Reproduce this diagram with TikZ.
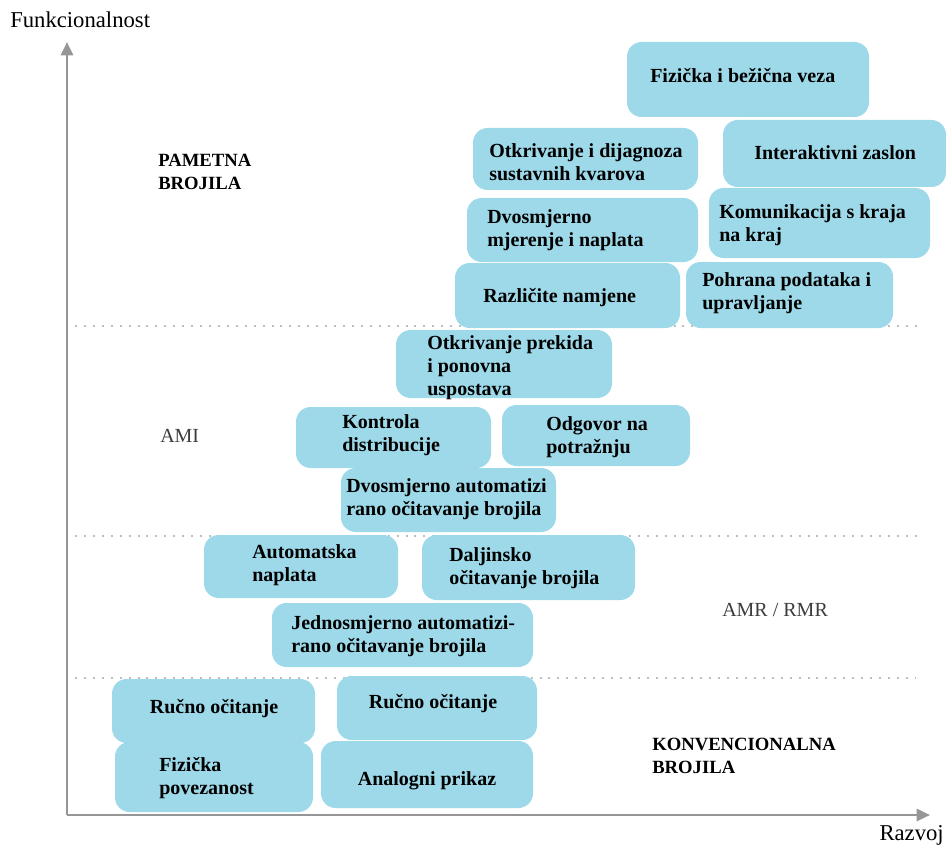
\documentclass[tikz,border=0pt]{standalone}
\usepackage{fontspec}
\setmainfont{Liberation Serif}
\usetikzlibrary{arrows.meta}
\definecolor{plava}{RGB}{157,217,233}
\definecolor{osi}{RGB}{150,150,150}
\definecolor{tocke}{RGB}{190,190,190}
\definecolor{sivi}{RGB}{60,60,60}
\tikzset{
    kutija/.style={fill=plava, rounded corners=11pt},
    tekst/.style={font=\fontsize{15}{17.25}\selectfont\bfseries, align=left, inner sep=0pt, anchor=west, yshift=-1.5pt},
    naslov/.style={font=\fontsize{14}{17.25}\selectfont\bfseries, align=left, inner sep=0pt, anchor=west},
    stari/.style={font=\fontsize{15}{17.25}\selectfont\bfseries, align=left, inner sep=0pt, yshift=-1pt},
    razina/.style={draw=tocke, line width=1.5pt, dash pattern=on 1.5pt off 5.2pt},
    os/.style={draw=osi, line width=2pt, -{Triangle[width=9pt,length=10pt]}}
}
\begin{document}
\begin{tikzpicture}[x=0.75pt, y=-0.75pt]
    \useasboundingbox (0,0) rectangle (946,845);
    % osi
    \coordinate (ishodiste) at (67,815);
    \draw[os] (ishodiste) -- (67,42);
    \draw[os] (ishodiste) -- (930,815);
    \node[anchor=west, inner sep=0pt, font=\fontsize{17}{20}\selectfont] (funk) at (10,20) {Funkcionalnost};
    \node[anchor=east, inner sep=0pt, font=\fontsize{17}{20}\selectfont] (razvoj) at (944,835) {Razvoj};
    % razine
    \draw[razina] (75,326) -- (920,326);
    \draw[razina] (75,536) -- (920,536);
    \draw[razina] (75,678) -- (915,678);
    \node[naslov] (pametna) at (158,172) {PAMETNA\\BROJILA};
    \node[anchor=west, inner sep=0pt, text=sivi, font=\fontsize{15}{18}\selectfont] (ami) at (160,436) {AMI};
    \node[anchor=west, inner sep=0pt, text=sivi, font=\fontsize{15}{18}\selectfont] (amr) at (722,610) {AMR / RMR};
    \node[naslov] (konv) at (652,756) {KONVENCIONALNA\\BROJILA};
    % pametna brojila
    \fill[kutija] (627,42) rectangle (869,117);
    \node[tekst] (veza) at (650,74) {Fizička i bežična veza};
    \fill[kutija] (473,128) rectangle (698,190);
    \node[tekst] (kvarovi) at (489,160) {Otkrivanje i dijagnoza\\sustavnih kvarova};
    \fill[kutija] (723,120) rectangle (946,187);
    \node[tekst] (zaslon) at (754,151) {Interaktivni zaslon};
    \fill[kutija] (467,198) rectangle (698,262);
    \node[tekst] (naplata) at (487,228) {Dvosmjerno\\mjerenje i naplata};
    \fill[kutija] (709,188) rectangle (930,258);
    \node[tekst] (komunikacija) at (719,223) {Komunikacija s kraja\\na kraj};
    \fill[kutija] (455,263) rectangle (680,328);
    \node[tekst] (namjene) at (483,296) {Različite namjene};
    \fill[kutija] (686,262) rectangle (893,328);
    \node[tekst] (pohrana) at (702,291) {Pohrana podataka i\\upravljanje};
    % AMI
    \fill[kutija] (396,330) rectangle (612,398);
    \node[tekst] (prekid) at (427,366) {Otkrivanje prekida\\i ponovna\\uspostava};
    \fill[kutija] (296,407) rectangle (491,468);
    \node[tekst] (kontrola) at (342,433) {Kontrola\\distribucije};
    \fill[kutija] (502,405) rectangle (690,466);
    \node[tekst] (odgovor) at (546,435) {Odgovor na\\potražnju};
    \fill[kutija] (341,468) rectangle (556,532);
    \node[tekst] (dvosmjerno) at (346,497) {Dvosmjerno automatizi\\rano očitavanje brojila};
    % AMR / RMR
    \fill[kutija] (204,535) rectangle (398,598);
    \node[tekst] (automatska) at (252,563) {Automatska\\naplata};
    \fill[kutija] (422,535) rectangle (635,600);
    \node[tekst] (daljinsko) at (449,566) {Daljinsko\\očitavanje brojila};
    \fill[kutija] (272,603) rectangle (533,667);
    \node[tekst] (jednosmjerno) at (291,634) {Jednosmjerno automatizi-\\rano očitavanje brojila};
    % konvencionalna brojila
    \fill[kutija] (112,679) rectangle (315,743);
    \node[stari] (rucno1) at (214,707) {Ručno očitanje};
    \fill[kutija] (337,676) rectangle (537,740);
    \node[stari] (rucno2) at (433,702) {Ručno očitanje};
    \fill[kutija] (115,742) rectangle (313,812);
    \node[stari, anchor=west] (povezanost) at (159,777) {Fizička\\povezanost};
    \fill[kutija] (321,741) rectangle (533,808);
    \node[stari] (analogni) at (427,779) {Analogni prikaz};
\end{tikzpicture}
\end{document}
